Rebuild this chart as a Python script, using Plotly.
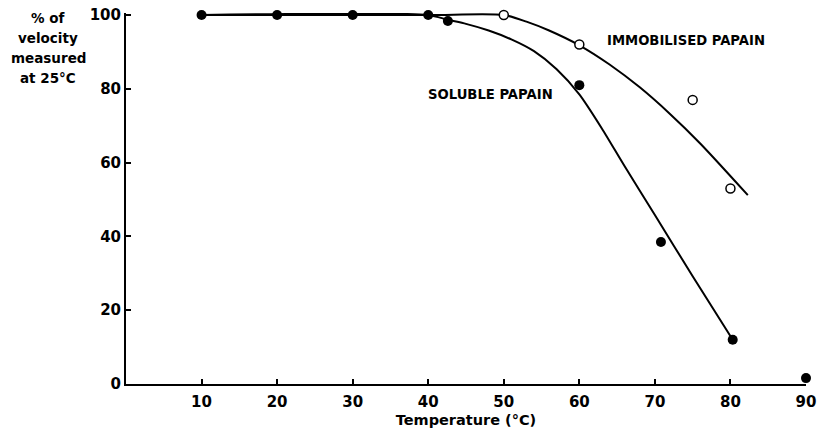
import plotly.graph_objects as go

# Measured points
soluble_x = [10, 20, 30, 40, 42.6, 60, 70.8, 80.3, 90]
soluble_y = [100, 100, 100, 100, 98.4, 81, 38.5, 12, 1.6]
immob_x = [50, 60, 75, 80]
immob_y = [100, 92, 77, 53]

# Fitted curves
sol_curve_x = [10, 40, 42.6, 45, 48, 51, 54, 57, 60, 63, 66, 70, 75, 80.3]
sol_curve_y = [100, 100, 98.7, 97.6, 95.8, 93.4, 90.2, 85.3, 78.5, 69.2, 59, 45.8, 29.2, 12]
imm_curve_x = [10, 40, 50, 53, 56, 60, 64, 68, 72, 76, 82.3]
imm_curve_y = [100, 100, 100, 98.2, 95.8, 91.8, 86.6, 80.4, 73.2, 65.2, 51.2]

x_ticks = [10, 20, 30, 40, 50, 60, 70, 80, 90]
y_ticks = [0, 20, 40, 60, 80, 100]
y_title_lines = ["% of", "velocity", "measured", "at 25°C"]

FONT = "DejaVu Sans"
L, R, T, B = 126, 13, 13, 44
PW, PH = 819 - L - R, 428 - T - B

fig = go.Figure()
fig.add_trace(go.Scatter(x=imm_curve_x, y=imm_curve_y, mode="lines",
                         line=dict(color="black", width=2, shape="spline", smoothing=0.7),
                         hoverinfo="skip"))
fig.add_trace(go.Scatter(x=sol_curve_x, y=sol_curve_y, mode="lines",
                         line=dict(color="black", width=2, shape="spline", smoothing=0.7),
                         hoverinfo="skip"))
fig.add_trace(go.Scatter(x=soluble_x, y=soluble_y, mode="markers",
                         marker=dict(color="black", size=10, line=dict(color="black", width=0)),
                         cliponaxis=False))
fig.add_trace(go.Scatter(x=immob_x, y=immob_y, mode="markers",
                         marker=dict(color="white", size=9, line=dict(color="black", width=1.5)),
                         cliponaxis=False))

annotations = []
for i, line in enumerate(y_title_lines):
    py = 18 + 20 * i
    annotations.append(dict(text="<b>" + line + "</b>", xref="paper", yref="paper",
                            x=(48 - L) / PW, y=1 - (py - T) / PH, xanchor="center",
                            yanchor="middle", showarrow=False,
                            font=dict(family=FONT, size=13.5)))
annotations += [
    dict(text="<b>IMMOBILISED PAPAIN</b>", xref="x", yref="y", x=(686 - 126.5) / 7.55,
         y=(384 - 40) / 3.69, xanchor="center", yanchor="middle", showarrow=False,
         font=dict(family=FONT, size=13.2)),
    dict(text="<b>SOLUBLE PAPAIN</b>", xref="x", yref="y", x=(491 - 126.5) / 7.55,
         y=(384 - 94) / 3.69, xanchor="center", yanchor="middle", showarrow=False,
         font=dict(family=FONT, size=13.2)),
]

fig.update_layout(
    width=819, height=428,
    margin=dict(l=L, r=R, t=T, b=B),
    paper_bgcolor="white", plot_bgcolor="white",
    showlegend=False,
    font=dict(family=FONT, color="black"),
    xaxis=dict(range=[0, 90], tickvals=x_ticks, ticks="inside", ticklen=5, tickwidth=2,
               tickcolor="black", showline=True, linecolor="black", linewidth=2,
               showgrid=False, zeroline=False, ticklabelstandoff=3, automargin=False,
               tickfont=dict(family=FONT, size=15, weight="bold"),
               title=dict(text="<b>Temperature (°C)</b>", font=dict(family=FONT, size=14.5),
                          standoff=7)),
    yaxis=dict(range=[0, 100.55], tickvals=y_ticks, ticks="inside", ticklen=5, tickwidth=2,
               tickcolor="black", showline=True, linecolor="black", linewidth=2,
               showgrid=False, zeroline=False, ticklabelstandoff=0, automargin=False,
               tickfont=dict(family=FONT, size=15, weight="bold")),
    annotations=annotations,
)

fig.write_html("out.html")
